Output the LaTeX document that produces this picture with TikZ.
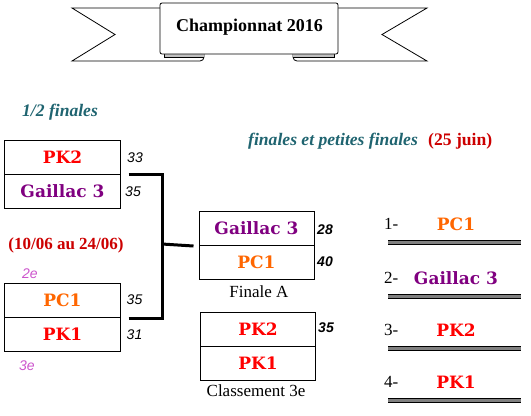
\documentclass[tikz,border=0pt]{standalone}
\usepackage{fontspec}
\setmainfont{Liberation Serif}
\newfontfamily\teamfont{DejaVu Serif}
\newfontfamily\scorefont{Liberation Sans}
\definecolor{pkred}{HTML}{FF0000}
\definecolor{gpurple}{HTML}{800080}
\definecolor{pcorange}{HTML}{FF6600}
\definecolor{titleteal}{HTML}{1F6470}
\definecolor{datered}{HTML}{CC0000}
\definecolor{rankpink}{HTML}{CC55CC}
\definecolor{foldgray}{HTML}{C0C0C0}
\tikzset{
  cell/.style={draw=black, line width=1bp, minimum width=115bp, minimum height=34bp, inner sep=0pt,
    font=\teamfont\bfseries\fontsize{17bp}{19bp}\selectfont},
  rankname/.style={inner sep=0pt, font=\teamfont\bfseries\fontsize{17bp}{19bp}\selectfont},
  score/.style={inner sep=0pt, font=\scorefont\itshape\fontsize{14bp}{16bp}\selectfont},
  fscore/.style={inner sep=0pt, font=\scorefont\bfseries\itshape\fontsize{14bp}{16bp}\selectfont},
  caption/.style={inner sep=0pt, font=\fontsize{17bp}{19bp}\selectfont},
  heading/.style={inner sep=0pt, text=titleteal, font=\bfseries\itshape\fontsize{17.6bp}{20bp}\selectfont},
  place/.style={inner sep=0pt, text=rankpink, font=\scorefont\itshape\fontsize{14bp}{16bp}\selectfont},
  bracket/.style={line width=3bp},
  banner/.style={draw=black, line width=0.8bp},
}
\begin{document}
\begin{tikzpicture}[x=1bp, y=-1bp]
\useasboundingbox (0,0) rectangle (531,415);
% ---------- banner ----------
\draw[banner, fill=white] (160,8) -- (72,8) -- (115,34.5) -- (72,61) -- (200,61)
   to[out=0,in=-90] (204,57) -- (204,54);
\draw[banner, fill=white] (338,8) -- (427,8) -- (382,34.5) -- (427,61) -- (297,61)
   to[out=180,in=-90] (293,57) -- (293,54);
\fill[foldgray] (164,54) rectangle (204,57.5);
\fill[foldgray] (293,54) rectangle (334,57.5);
\draw[banner] (164,54) -- (164,57.5) -- (204,57.5);
\draw[banner] (293,57.5) -- (334,57.5) -- (334,54);
\draw[banner, fill=white, rounded corners=2bp] (160,3) -- (338,3) -- (338,54) -- (160,54) -- cycle;
\node[inner sep=0pt, font=\bfseries\fontsize{18bp}{20bp}\selectfont] (title) at (249.5,27) {Championnat 2016};
% ---------- headings ----------
\node[heading] (demi) at (60,112) {1/2 finales};
\node[heading, anchor=west] (fin) at (248,141) {finales et petites finales};
\node[inner sep=0pt, anchor=west, text=datered, font=\bfseries\fontsize{17.6bp}{20bp}\selectfont] (juin) at (428,141) {(25 juin)};
\node[inner sep=0pt, text=datered, font=\bfseries\fontsize{17bp}{19bp}\selectfont] (dates) at (66,245) {(10/06 au 24/06)};
% ---------- semi-finals ----------
\node[cell, text=pkred] (s1a) at (62.5,157) {PK2};
\node[cell, text=gpurple] (s1b) at (62.5,191) {Gaillac 3};
\node[score] (sc1a) at (135,158) {33};
\node[score] (sc1b) at (133,192) {35};
\node[place] (p2) at (30,274) {2e};
\node[cell, text=pcorange] (s2a) at (62.5,300.5) {PC1};
\node[cell, text=pkred] (s2b) at (62.5,334.5) {PK1};
\node[score] (sc2a) at (134.5,300) {35};
\node[score] (sc2b) at (134.5,335) {31};
\node[place] (p3) at (27,366) {3e};
% ---------- final ----------
\node[cell, text=gpurple] (fa) at (256.5,228.5) {Gaillac 3};
\node[cell, text=pcorange] (fb) at (256.5,262.5) {PC1};
\node[fscore] (scfa) at (325,230) {28};
\node[fscore] (scfb) at (325,262) {40};
\node[caption] (finA) at (259,292) {Finale A};
% ---------- 3rd place ----------
\node[cell, text=pkred] (ca) at (258,329) {PK2};
\node[cell, text=pkred] (cb) at (258,363) {PK1};
\node[fscore] (scca) at (326,328) {35};
\node[caption] (cl3) at (256,391) {Classement 3e};
% ---------- bracket ----------
\coordinate (j) at (162,244);
\draw[bracket] ([xshift=8bp]s1a.south east) -| (j);
\draw[bracket] ([xshift=8bp]s2a.south east) -| (j);
\draw[bracket] (j) -- ([xshift=-5bp]fa.south west);
% ---------- ranking ----------
\foreach \i/\t/\c/\y in {1/PC1/pcorange/224, 2/Gaillac 3/gpurple/278, 3/PK2/pkred/330, 4/PK1/pkred/382}{
  \node[caption, anchor=west] (r\i) at (384,\y) {\i-};
  \node[rankname, text=\c] (n\i) at (456,\y) {\t};
  \fill[gray] (388,\y+16.5) rectangle (521,\y+20);
  \draw[line width=1bp] (388,\y+16.5) -- (521,\y+16.5);
  \draw[line width=1bp] (388,\y+20) -- (521,\y+20);
}
\end{tikzpicture}
\end{document}
